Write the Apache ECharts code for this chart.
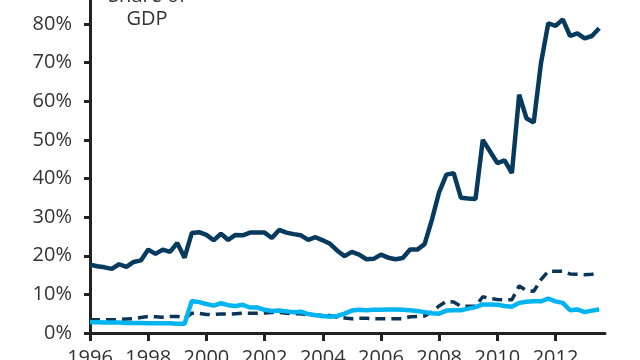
<!DOCTYPE html>
<html>
<head>
<meta charset="utf-8">
<script src="https://cdn.jsdelivr.net/npm/echarts@6/dist/echarts.min.js"></script>
<style>html,body{margin:0;padding:0;background:#fff;overflow:hidden;width:640px;height:360px}#c{position:absolute;left:0;top:-15px;width:640px;height:375px}</style>
</head>
<body>
<div id="c"></div>
<script>
// Quarterly observations, 1996 Q1 onward
var startYear = 1996;
var yTicks = ['0%','10%','20%','30%','40%','50%','60%','70%','80%'];
var xTickYears = [1996,1998,2000,2002,2004,2006,2008,2010,2012];
var totalShare = [17.7,17.3,17.0,16.6,17.8,17.1,18.4,18.8,21.6,20.5,21.6,21.0,23.3,19.5,25.9,26.1,25.4,24.0,25.7,24.1,25.4,25.3,26.0,26.0,26.0,24.6,26.7,26.0,25.6,25.3,24.1,24.8,24.0,23.1,21.3,19.9,21.0,20.3,19.1,19.2,20.3,19.5,19.1,19.4,21.6,21.6,23.0,29.3,36.5,41.0,41.4,35.0,34.8,34.7,50.0,47.0,44.0,44.7,41.4,61.7,55.6,54.5,69.9,80.2,79.5,81.2,76.9,77.6,76.3,76.9,78.9];
var lightShare = [2.8,2.8,2.7,2.7,2.7,2.6,2.6,2.6,2.5,2.5,2.5,2.5,2.4,2.4,8.3,8.0,7.5,7.1,7.7,7.2,7.0,7.3,6.6,6.6,6.0,5.7,5.8,5.6,5.4,5.5,4.9,4.6,4.4,4.2,4.4,5.0,5.8,6.0,5.9,6.0,6.0,6.1,6.1,6.0,5.9,5.7,5.4,5.1,5.0,5.8,5.9,5.9,6.3,6.7,7.4,7.4,7.3,7.0,6.8,7.8,8.1,8.2,8.2,8.9,8.2,7.8,5.9,6.1,5.4,5.8,6.1];
var dashedShare = [3.4,3.4,3.4,3.4,3.5,3.6,3.7,4.0,4.3,4.2,4.1,4.3,4.3,3.8,5.1,5.1,4.8,4.8,4.9,4.9,5.0,5.1,5.1,5.1,5.2,5.3,5.3,5.1,5.0,5.0,4.7,4.6,4.6,4.5,4.1,3.9,3.7,3.8,3.8,3.7,3.7,3.7,3.7,3.7,4.2,4.3,4.4,5.5,7.0,8.2,8.0,6.9,6.9,6.9,9.4,8.9,8.7,8.6,8.6,12.2,11.0,10.8,13.8,16.0,16.0,16.0,15.3,15.2,15.1,15.2,15.7];

function toPairs(arr){
  return arr.map(function(v,i){ return [startYear + i*0.25, v]; });
}
var FONT = '"Open Sans", "Noto Sans", sans-serif';
var chart = echarts.init(document.getElementById('c'), null, {renderer:'canvas'});
chart.setOption({
  animation:false,
  grid:{left:90,right:35,top:0.4,bottom:27,containLabel:false,outerBoundsMode:'none'},
  xAxis:{
    type:'value',min:1996,max:2013.7,interval:2,
    axisLine:{show:true,lineStyle:{color:'#222',width:3}},
    axisTick:{show:true,length:8,lineStyle:{color:'#222',width:3}},
    splitLine:{show:false},
    axisLabel:{color:'#333',fontSize:20,fontFamily:FONT,margin:15,
      formatter:function(v){ return xTickYears.indexOf(v)>=0 ? String(v) : ''; },
      showMaxLabel:false}
  },
  yAxis:{
    type:'value',min:0,max:90,interval:10,
    axisLine:{show:true,lineStyle:{color:'#222',width:3}},
    axisTick:{show:true,length:6,lineStyle:{color:'#222',width:3}},
    splitLine:{show:false},
    axisLabel:{color:'#333',fontSize:20,fontFamily:FONT,margin:18,
      formatter:function(v){ var i=v/10; return yTicks[i]||''; }}
  },
  graphic:[
    {type:'text',x:147,y:11,style:{text:'Share of',fill:'#333',font:'20px '+FONT,textAlign:'center',textVerticalAlign:'middle'}},
    {type:'text',x:147,y:34,style:{text:'GDP',fill:'#333',font:'20px '+FONT,textAlign:'center',textVerticalAlign:'middle'}}
  ],
  series:[
    {type:'line',data:toPairs(dashedShare),symbol:'none',lineStyle:{color:'#0b3558',width:3.5,type:[10,6]},z:2},
    {type:'line',data:toPairs(lightShare),symbol:'none',lineStyle:{color:'#00b5ef',width:4.5},z:3},
    {type:'line',data:toPairs(totalShare),symbol:'none',lineStyle:{color:'#083a5e',width:4.5},z:4}
  ]
});
</script>
</body>
</html>
